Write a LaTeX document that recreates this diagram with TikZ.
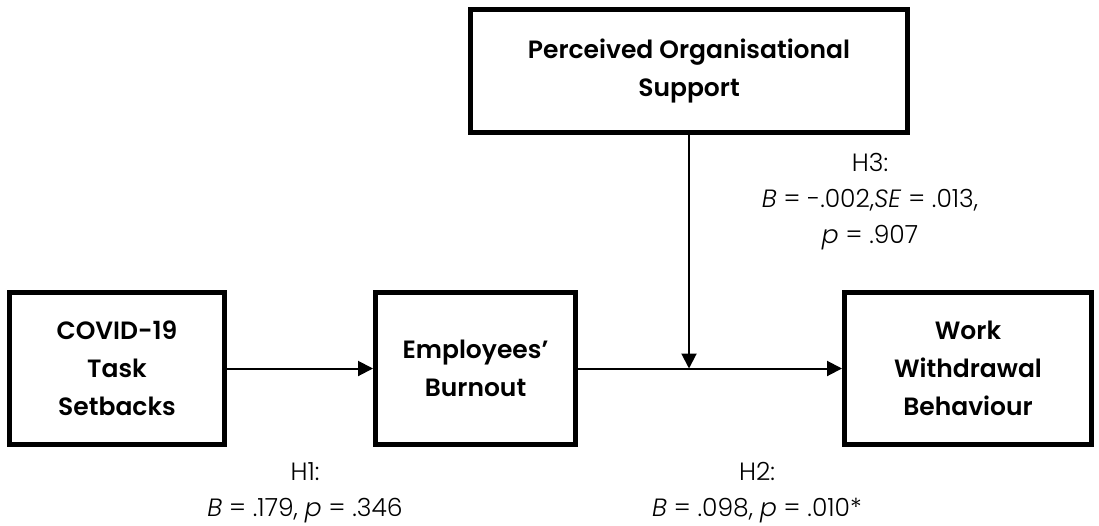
\documentclass[tikz,border=0pt]{standalone}
\usepackage{fontspec}
\setmainfont{Poppins}
\newfontfamily\boxfont{Poppins SemiBold}
\newfontfamily\lightfont{Poppins Light}
\usetikzlibrary{arrows.meta}
\begin{document}
\begin{tikzpicture}[x=1pt,y=-1pt,
  var/.style={draw,line width=5pt,align=center,inner sep=0pt,minimum height=152pt,
    font=\boxfont\fontsize{25}{38}\selectfont},
  hyp/.style={align=center,inner sep=0pt,font=\lightfont\fontsize{25}{36}\selectfont},
  link/.style={line width=2pt,-{Triangle[length=15pt,width=15pt]}}]
\useasboundingbox (0,0) rectangle (1099,525);
\node[var,minimum width=437pt,minimum height=123pt] (pos) at (689,71) {Perceived Organisational\\Support};
\node[var,minimum width=215pt] (covid) at (117,368.5) {COVID-19\\Task\\Setbacks};
\node[var,minimum width=200pt] (burnout) at (475.5,368.5) {Employees’\\Burnout};
\node[var,minimum width=247pt] (work) at (968,368.5) {Work\\Withdrawal\\Behaviour};
\coordinate (mod) at (pos.south |- burnout.east);
\draw[link] (covid) -- (burnout);
\draw[link] (burnout) -- (work);
\draw[link] (pos) -- (mod);
\node[hyp] (h3) at (870,202) {H3:\\\textit{B} = -.002,\textit{SE} = .013,\\\textit{p} = .907};
\node[hyp] (h1) at (305,493) {H1:\\\textit{B} = .179, \textit{p} = .346};
\node[hyp] (h2) at (757,493) {H2:\\\textit{B} = .098, \textit{p} = .010*};
\end{tikzpicture}
\end{document}
